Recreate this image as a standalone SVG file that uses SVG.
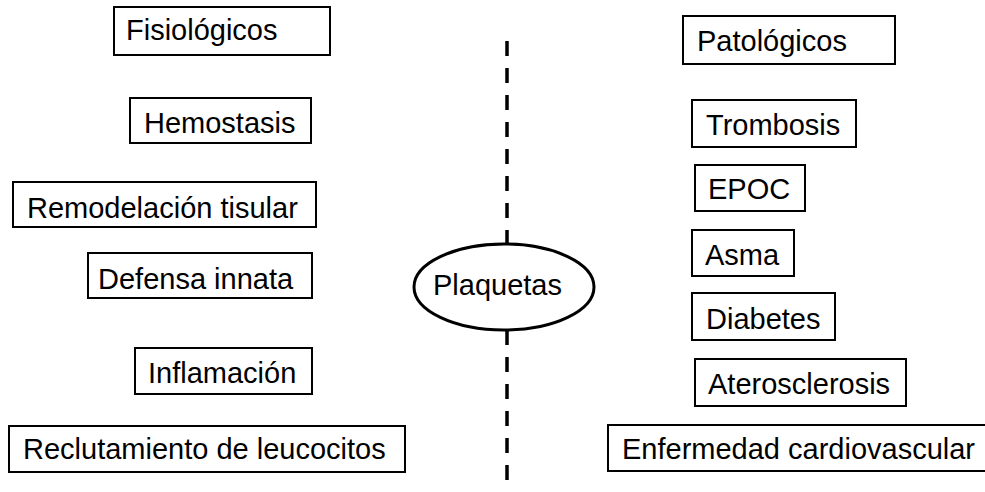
<svg xmlns="http://www.w3.org/2000/svg" width="985" height="492" viewBox="0 0 985 492">
<style>
.box{fill:#fff;stroke:#000;stroke-width:2}
.t{font-family:"Liberation Sans",Arial,sans-serif;font-size:29px;fill:#000}
.dash{stroke:#000;stroke-width:3.5;stroke-dasharray:15 12;fill:none}
</style>
<rect width="985" height="492" fill="#fff"/>
<g id="connectors">
<line class="dash" x1="507" y1="41" x2="507" y2="245"/>
<line class="dash" x1="507" y1="330" x2="507" y2="481"/>
</g>
<g id="fisiologicos"><rect class="box" x="114" y="7" width="216" height="48"/><text class="t" x="126" y="40">Fisiológicos</text></g>
<g id="hemostasis"><rect class="box" x="130" y="98" width="181" height="45"/><text class="t" x="144" y="133">Hemostasis</text></g>
<g id="remodelacion"><rect class="box" x="13" y="182" width="303" height="45"/><text class="t" x="27" y="218">Remodelación tisular</text></g>
<g id="defensa"><rect class="box" x="88" y="253" width="224" height="45"/><text class="t" x="98" y="289">Defensa innata</text></g>
<g id="inflamacion"><rect class="box" x="135" y="348" width="177" height="46"/><text class="t" x="148" y="383">Inflamación</text></g>
<g id="reclutamiento"><rect class="box" x="9" y="426" width="396" height="46"/><text class="t" x="23" y="459">Reclutamiento de leucocitos</text></g>
<g id="plaquetas"><ellipse cx="504" cy="287" rx="90" ry="43" fill="#fff" stroke="#000" stroke-width="3"/><text class="t" x="433" y="295">Plaquetas</text></g>
<g id="patologicos"><rect class="box" x="683" y="16" width="212" height="48"/><text class="t" x="697" y="51">Patológicos</text></g>
<g id="trombosis"><rect class="box" x="692" y="100" width="164" height="47"/><text class="t" x="706" y="135">Trombosis</text></g>
<g id="epoc"><rect class="box" x="695" y="165" width="110" height="46"/><text class="t" x="708" y="199">EPOC</text></g>
<g id="asma"><rect class="box" x="692" y="230" width="102" height="46"/><text class="t" x="705" y="265">Asma</text></g>
<g id="diabetes"><rect class="box" x="692" y="293" width="143" height="47"/><text class="t" x="706" y="329">Diabetes</text></g>
<g id="aterosclerosis"><rect class="box" x="695" y="359" width="211" height="47"/><text class="t" x="708" y="394">Aterosclerosis</text></g>
<g id="enfermedad"><rect class="box" x="608" y="425" width="390" height="46"/><text class="t" x="622" y="459">Enfermedad cardiovascular</text></g>
</svg>
